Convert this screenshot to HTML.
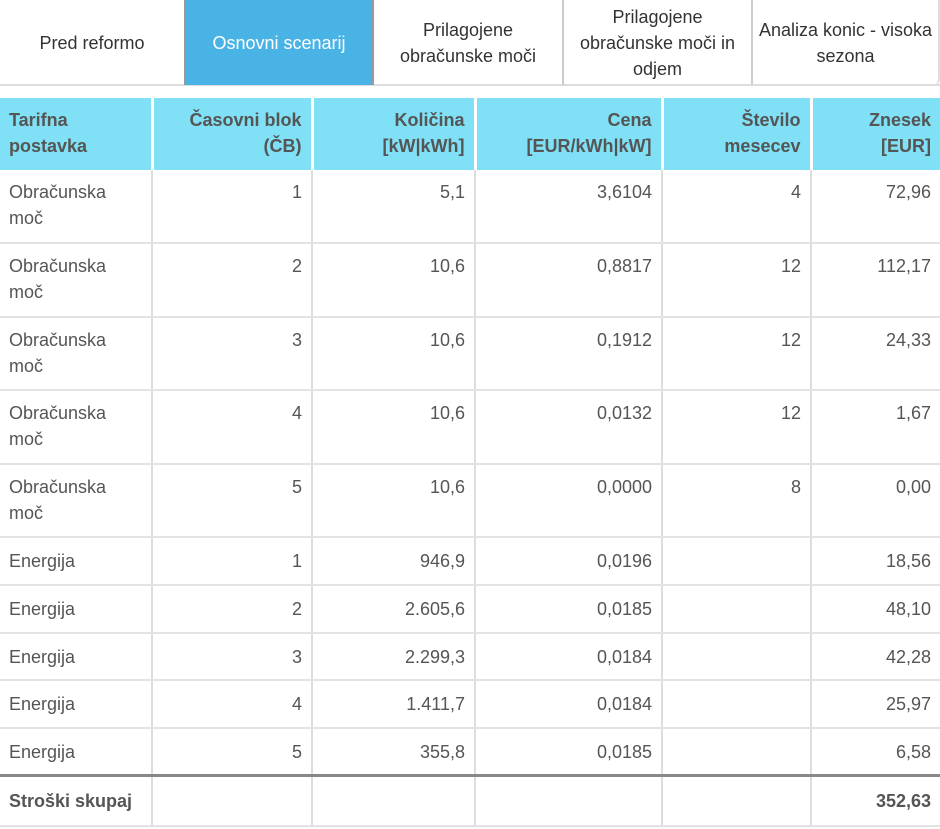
<!DOCTYPE html>
<html><head><meta charset="utf-8"><style>
*{box-sizing:border-box;margin:0;padding:0}
body{width:940px;height:829px;background:#fff;font-family:"Liberation Sans",Arimo,Arial,Helvetica,sans-serif;color:#555;font-size:18px;overflow:hidden;position:relative}
.tabs{position:absolute;left:0;top:0;width:940px;height:86px;border-bottom:2px solid #ddd}
.tab{position:absolute;top:0;height:85px;display:flex;align-items:center;justify-content:center;text-align:center;line-height:26px;color:#333;border-left:2px solid #ccc}
.tab.a{background:#4ab3e6;color:#fff;border-left:2px solid #999;border-right:2px solid #999}
table{position:absolute;left:0;top:98px;width:940px;border-collapse:collapse;table-layout:fixed}
td,th{padding:9px 9px 0 9px;vertical-align:top;line-height:26px;text-align:right;border-left:2px solid #ddd;border-right:2px solid #ddd;border-bottom:2px solid #e3e3e3}
th{background:#7fe0f6;border-left:3px solid #fff;border-right:3px solid #fff;border-bottom:none;font-weight:bold;height:72px;padding-top:9px}
td:first-child,th:first-child{text-align:left;border-left:none}
td:last-child,th:last-child{border-right:none}
tr.t td{height:73.4px}
tr.e td{height:47.8px;padding-top:10px}
tr.s td{height:50px;border-top:3px solid #888;font-weight:bold;padding-top:11px}
</style></head><body>
<div class="tabs">
<div class="tab" style="left:0;width:184px;border-left:none">Pred reformo</div>
<div class="tab a" style="left:184px;width:190px">Osnovni scenarij</div>
<div class="tab" style="left:374px;width:188px;border-left:none">Prilagojene<br>obračunske moči</div>
<div class="tab" style="left:562px;width:189px">Prilagojene<br>obračunske moči in<br>odjem</div>
<div class="tab" style="left:751px;width:189px;border-right:2px solid #ddd;border-radius:0 0 6px 0">Analiza konic - visoka<br>sezona</div>
</div>
<table>
<colgroup><col style="width:152px"><col style="width:160px"><col style="width:163px"><col style="width:187px"><col style="width:149px"><col style="width:129px"></colgroup>
<tr><th>Tarifna<br>postavka</th><th>Časovni blok<br>(ČB)</th><th>Količina<br>[kW|kWh]</th><th>Cena<br>[EUR/kWh|kW]</th><th>Število<br>mesecev</th><th>Znesek<br>[EUR]</th></tr>
<tr class="t"><td>Obračunska<br>moč</td><td>1</td><td>5,1</td><td>3,6104</td><td>4</td><td>72,96</td></tr>
<tr class="t"><td>Obračunska<br>moč</td><td>2</td><td>10,6</td><td>0,8817</td><td>12</td><td>112,17</td></tr>
<tr class="t"><td>Obračunska<br>moč</td><td>3</td><td>10,6</td><td>0,1912</td><td>12</td><td>24,33</td></tr>
<tr class="t"><td>Obračunska<br>moč</td><td>4</td><td>10,6</td><td>0,0132</td><td>12</td><td>1,67</td></tr>
<tr class="t"><td>Obračunska<br>moč</td><td>5</td><td>10,6</td><td>0,0000</td><td>8</td><td>0,00</td></tr>
<tr class="e"><td>Energija</td><td>1</td><td>946,9</td><td>0,0196</td><td></td><td>18,56</td></tr>
<tr class="e"><td>Energija</td><td>2</td><td>2.605,6</td><td>0,0185</td><td></td><td>48,10</td></tr>
<tr class="e"><td>Energija</td><td>3</td><td>2.299,3</td><td>0,0184</td><td></td><td>42,28</td></tr>
<tr class="e"><td>Energija</td><td>4</td><td>1.411,7</td><td>0,0184</td><td></td><td>25,97</td></tr>
<tr class="e"><td>Energija</td><td>5</td><td>355,8</td><td>0,0185</td><td></td><td>6,58</td></tr>
<tr class="s"><td>Stroški skupaj</td><td></td><td></td><td></td><td></td><td>352,63</td></tr>
</table>
</body></html>
